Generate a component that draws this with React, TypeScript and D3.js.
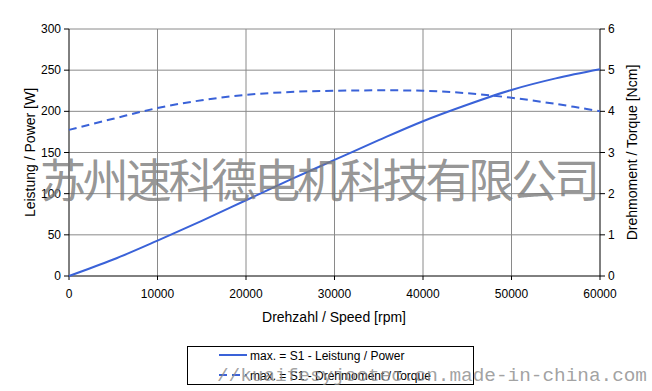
import React from "react";
import * as d3 from "d3";

const speed = [0, 5000, 10000, 15000, 20000, 25000, 30000, 35000, 40000, 45000, 50000, 55000, 60000];
const power = [0, 20, 43, 67, 92, 117, 141, 165, 188, 208, 226, 240, 251];
const torque = [3.55, 3.82, 4.08, 4.27, 4.4, 4.47, 4.5, 4.51, 4.5, 4.44, 4.33, 4.18, 4.0];
const xTicks = [0, 10000, 20000, 30000, 40000, 50000, 60000];
const yLeftTicks = [0, 50, 100, 150, 200, 250, 300];
const yRightTicks = [0, 1, 2, 3, 4, 5, 6];
const legendLabels = ["max. = S1 - Leistung / Power", "max. = S1 - Drehmoment / Torque"];
const watermarkCN = "苏州速科德电机科技有限公司";
const watermarkURL = "//kuaifesyjootec.cn.made-in-china.com";

const L = 69, R = 600, T = 29, B = 276;
const BLUE = "#3a62d8";
const FONT = "'Liberation Sans', Arial, sans-serif";

export default function App() {
  const x = d3.scaleLinear().domain([0, 60000]).range([L, R]);
  const yL = d3.scaleLinear().domain([0, 300]).range([B, T]);
  const yR = d3.scaleLinear().domain([0, 6]).range([B, T]);
  const pLine = d3.line<number>().x((_, i) => x(speed[i])).y((d) => yL(d)).curve(d3.curveMonotoneX);
  const tLine = d3.line<number>().x((_, i) => x(speed[i])).y((d) => yR(d)).curve(d3.curveCatmullRom);

  return (
    <svg width={652} height={391} style={{ position: "absolute", left: 0, top: 0, background: "#fff" }} fontFamily={FONT}>
      <rect x={0} y={0} width={652} height={391} fill="#fff" />
      {/* grid */}
      {xTicks.slice(1, -1).map((t) => (
        <line key={"gx" + t} x1={x(t)} x2={x(t)} y1={T} y2={B} stroke="#8a8a8a" strokeWidth={1} />
      ))}
      {yLeftTicks.slice(1).map((t) => (
        <line key={"gy" + t} x1={L} x2={R} y1={yL(t)} y2={yL(t)} stroke="#8a8a8a" strokeWidth={1} />
      ))}
      {/* axes */}
      <line x1={L} x2={L} y1={T} y2={B} stroke="#000" />
      <line x1={R} x2={R} y1={T} y2={B} stroke="#000" />
      <line x1={L} x2={R} y1={B} y2={B} stroke="#000" />
      {yLeftTicks.map((t) => (
        <g key={"yl" + t}>
          <line x1={L - 5} x2={L} y1={yL(t)} y2={yL(t)} stroke="#000" />
          <text x={61} y={yL(t) + 4} fontSize={12} textAnchor="end" fill="#000">{t}</text>
        </g>
      ))}
      {yRightTicks.map((t) => (
        <g key={"yr" + t}>
          <line x1={R} x2={R + 5} y1={yR(t)} y2={yR(t)} stroke="#000" />
          <text x={608} y={yR(t) + 4} fontSize={12} textAnchor="start" fill="#000">{t}</text>
        </g>
      ))}
      {xTicks.map((t) => (
        <g key={"xt" + t}>
          <line x1={x(t)} x2={x(t)} y1={B} y2={B + 4} stroke="#000" />
          <text x={x(t)} y={298} fontSize={12} textAnchor="middle" fill="#000">{t}</text>
        </g>
      ))}
      <text x={334} y={322} fontSize={14} textAnchor="middle">Drehzahl / Speed [rpm]</text>
      <text transform={`translate(35,${(T + B) / 2}) rotate(-90)`} fontSize={14} textAnchor="middle">Leistung / Power [W]</text>
      <text transform={`translate(637,${(T + B) / 2}) rotate(-90)`} fontSize={14} textAnchor="middle">Drehmoment / Torque [Ncm]</text>
      {/* series */}
      <path d={pLine(power) || ""} fill="none" stroke={BLUE} strokeWidth={2} />
      <path d={tLine(torque) || ""} fill="none" stroke={BLUE} strokeWidth={2} strokeDasharray="8,5" />
      {/* legend */}
      <rect x={187.5} y={346.5} width={286} height={38} fill="#fff" stroke="#000" />
      <line x1={219} x2={247} y1={355} y2={355} stroke={BLUE} strokeWidth={2} />
      <text x={250} y={359.5} fontSize={12}>{legendLabels[0]}</text>
      <line x1={219} x2={247} y1={375} y2={375} stroke={BLUE} strokeWidth={2} strokeDasharray="8,5" />
      <text x={250} y={379.5} fontSize={12}>{legendLabels[1]}</text>
      {/* watermarks */}
      <text x={40} y={197} fontSize={46} fill="#7a7a7a" fillOpacity={0.8} textLength={560} lengthAdjust="spacing"
        fontFamily="'Noto Sans CJK SC', sans-serif" fontWeight={400}>{watermarkCN}</text>
      <text x={217} y={381} fontSize={19} fill="#8a8a8a" fillOpacity={0.8} textLength={430} lengthAdjust="spacingAndGlyphs"
        fontFamily="'Liberation Mono', 'DejaVu Sans Mono', monospace">{watermarkURL}</text>
    </svg>
  );
}
